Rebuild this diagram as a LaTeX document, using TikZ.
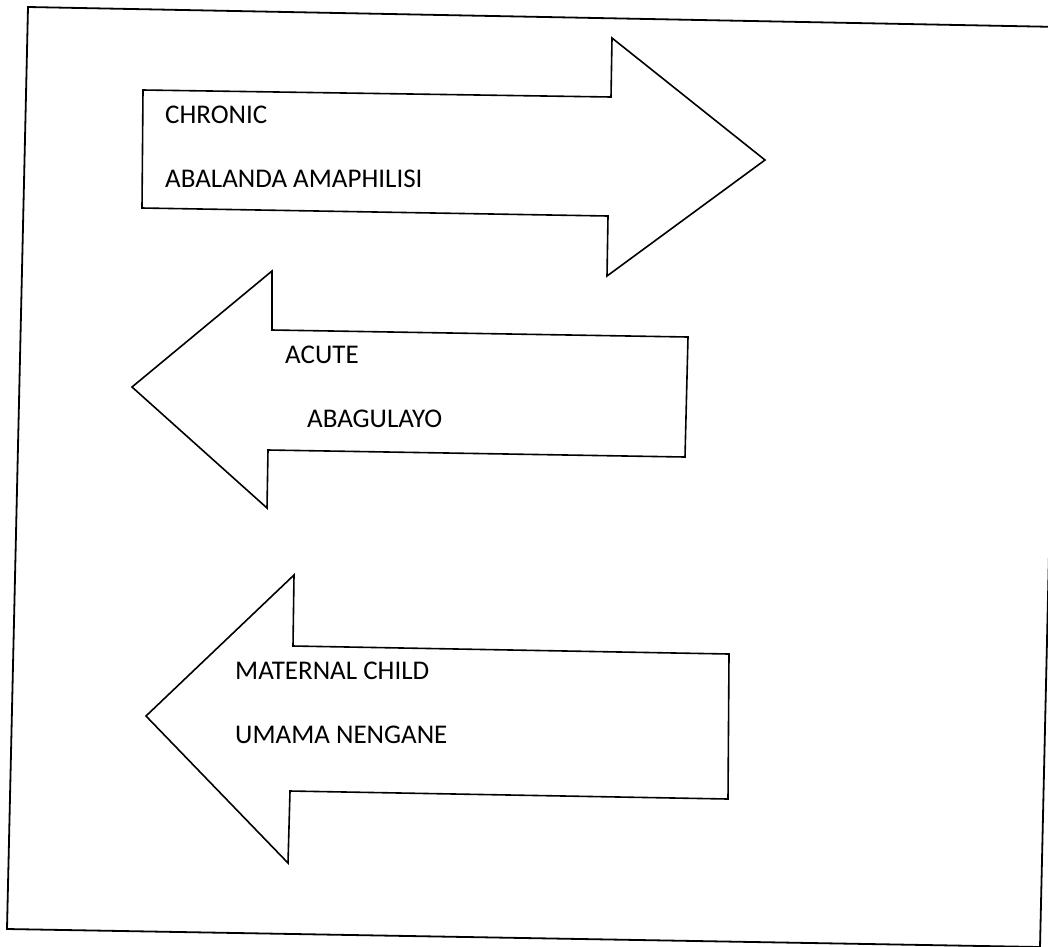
\documentclass[tikz,border=0pt]{standalone}
\usepackage{fontspec}
\setmainfont{Carlito}
\begin{document}
\begin{tikzpicture}[x=1pt,y=-1pt,
  shapeline/.style={draw=black,line width=1.6pt,line join=miter},
  framel/.style={draw=black,line width=1.8pt},
  lbl/.style={anchor=base west,inner sep=0pt,font=\fontsize{27}{32}\selectfont}]
\useasboundingbox[fill=white] (0,0) rectangle (1048,946);
\begin{scope}
\clip (0,0) rectangle (1048,946);
% outer frame (slightly rotated scan)
\draw[framel] (28,7) -- (1061,27) -- (1040,947) -- (7,929) -- cycle;
\end{scope}
% arrow 1 (right)
\draw[shapeline] (143,90) -- (611,97) -- (612,38) -- (765,160) -- (607,276) -- (608,216) -- (142,208) -- cycle;
% arrow 2 (left)
\draw[shapeline] (688,337) -- (272,330) -- (272,271) -- (132,387) -- (267,508) -- (268,450) -- (685,457) -- cycle;
% arrow 3 (left)
\draw[shapeline] (729,654) -- (293,646) -- (294,575) -- (146,716) -- (288,863) -- (290,791) -- (728,799) -- cycle;
% labels
\node[lbl] (chronic) at (165,123) {CHRONIC};
\node[lbl] (abalanda) at (165,187) {ABALANDA AMAPHILISI};
\node[lbl] (acute) at (285,363) {ACUTE};
\node[lbl] (abagulayo) at (307,427) {ABAGULAYO};
\node[lbl] (maternal) at (235,679) {MATERNAL CHILD};
\node[lbl] (umama) at (235,743) {UMAMA NENGANE};
\end{tikzpicture}
\end{document}
